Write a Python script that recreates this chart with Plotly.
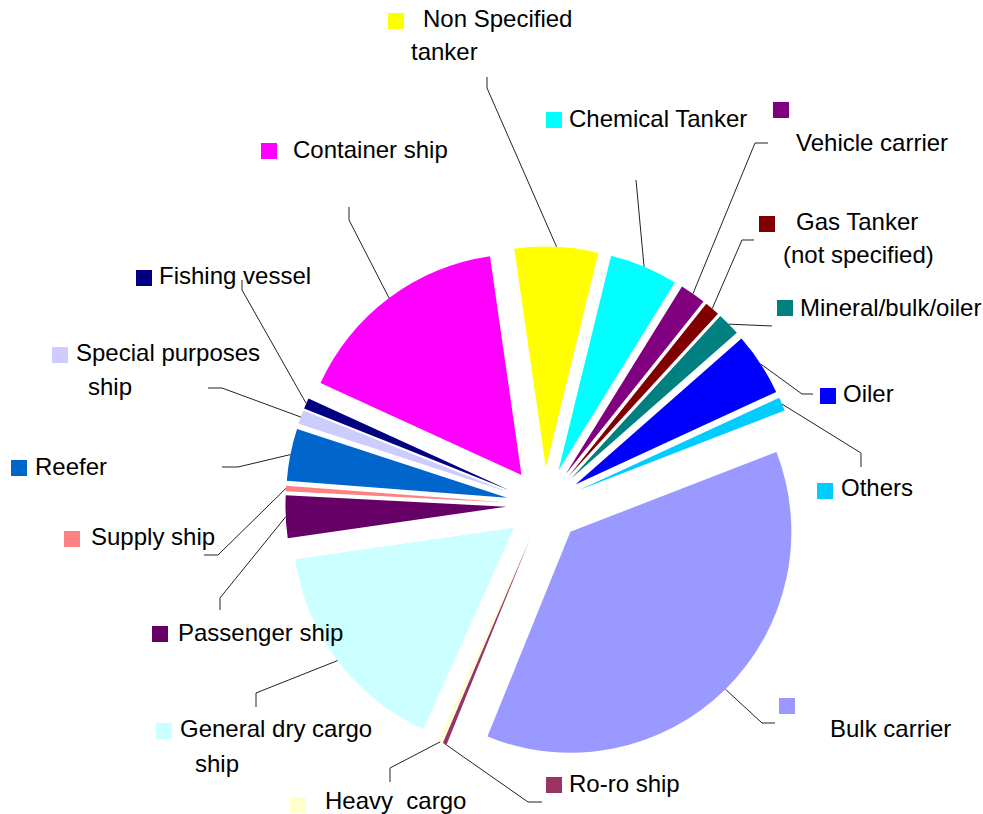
import math
import plotly.graph_objects as go

# ---------------- data ----------------
categories = [
    "Non Specified tanker", "Chemical Tanker", "Vehicle carrier",
    "Gas Tanker (not specified)", "Mineral/bulk/oiler", "Oiler", "Others",
    "Bulk carrier", "Ro-ro ship", "Heavy  cargo", "General dry cargo ship",
    "Passenger ship", "Supply ship", "Reefer", "Special purposes ship",
    "Fishing vessel", "Container ship",
]
shares = [6.1, 5.0, 1.9, 1.1, 1.7, 4.6, 1.0, 37.0, 0.3, 0.3, 16.0,
          3.1, 0.4, 3.8, 1.0, 0.8, 15.9]
label_text = [
    ["Non Specified", "tanker"], ["Chemical Tanker"], ["Vehicle carrier"],
    ["Gas Tanker", "(not specified)"], ["Mineral/bulk/oiler"], ["Oiler"], ["Others"],
    ["Bulk carrier"], ["Ro-ro ship"], ["Heavy  cargo"], ["General dry cargo", "ship"],
    ["Passenger ship"], ["Supply ship"], ["Reefer"], ["Special purposes", "ship"],
    ["Fishing vessel"], ["Container ship"],
]

# ---------------- styles / layout ----------------
colors = ["#FFFF00", "#00FFFF", "#800080", "#800000", "#008080", "#0000FF", "#00CCFF",
          "#9999FF", "#993366", "#FFFFCC", "#CCFFFF", "#660066", "#FF8080", "#0066CC",
          "#CCCCFF", "#000080", "#FF00FF"]

W, H = 983, 814
CX, CY = 544, 505          # pie centre (px)
R = 221                    # pie radius (px)
PULL = 0.17
ROT = -8.2
FONT = dict(family="Liberation Sans, Arial, sans-serif", size=24, color="black")
SQ = 16

# label placement (px): square (left, centre y), text lines (left, centre y), leader path after start
label_pos = [
    dict(sq=(388, 21), lines=[(422, 19), (410, 52)], path=[(487, 88), (487, 77)]),
    dict(sq=(546, 120), lines=[(568, 119)], path=[(636, 180)]),
    dict(sq=(773, 110), lines=[(795, 142)], path=[(755, 143), (768, 143)]),
    dict(sq=(759, 224), lines=[(795, 221), (782, 254)], path=[(742, 240), (754, 240)]),
    dict(sq=(777, 308), lines=[(799, 307)], path=[(772, 326)]),
    dict(sq=(820, 396), lines=[(842, 393)], path=[(802, 394), (813, 394)]),
    dict(sq=(817, 491), lines=[(840, 488)], path=[(861, 453), (861, 467)]),
    dict(sq=(779, 706), lines=[(829, 728)], path=[(762, 723), (775, 723)]),
    dict(sq=(546, 785), lines=[(568, 783)], path=[(528, 802), (542, 802)]),
    dict(sq=(290, 805), lines=[(324, 800)], path=[(390, 768), (390, 782)]),
    dict(sq=(156, 731), lines=[(179, 728), (194, 763)], path=[(256, 693), (256, 707)]),
    dict(sq=(152, 634), lines=[(177, 632)], path=[(220, 598), (220, 610)]),
    dict(sq=(64, 539), lines=[(90, 536)], path=[(218, 555), (204, 555)]),
    dict(sq=(11, 468), lines=[(34, 466)], path=[(238, 467), (222, 467)]),
    dict(sq=(52, 355), lines=[(75, 353), (87, 386)], path=[(222, 388), (208, 388)]),
    dict(sq=(136, 278), lines=[(158, 275)], path=[(242, 290), (242, 280)]),
    dict(sq=(261, 151), lines=[(292, 149)], path=[(349, 220), (349, 207)]),
]


def px(x):
    return x / W


def py(y):
    return 1 - y / H


side = 2 * R * (1 + PULL)
fig = go.Figure(go.Pie(
    labels=categories, values=shares, sort=False, direction="clockwise",
    rotation=ROT, pull=[PULL] * len(shares),
    marker=dict(colors=colors, line=dict(width=0)),
    textinfo="none", hoverinfo="label+percent", showlegend=False,
    domain=dict(x=[px(CX - side / 2), px(CX + side / 2)],
                y=[py(CY + side / 2), py(CY - side / 2)]),
))

shapes, annotations = [], []
total = sum(shares)
cum = 0.0
for i, v in enumerate(shares):
    mid = math.radians(ROT + (cum + v / 2) / total * 360)
    cum += v
    t = R * (1 + PULL)
    sx, sy = CX + t * math.sin(mid), CY - t * math.cos(mid)
    lp = label_pos[i]
    pts = [(sx, sy)] + lp["path"]
    d = "M " + " L ".join(f"{px(x):.5f},{py(y):.5f}" for x, y in pts)
    shapes.append(dict(type="path", path=d, xref="paper", yref="paper",
                       line=dict(color="#222222", width=1)))
    qx, qy = lp["sq"]
    shapes.append(dict(type="rect", xref="paper", yref="paper",
                       x0=px(qx), x1=px(qx + SQ), y0=py(qy + SQ / 2), y1=py(qy - SQ / 2),
                       fillcolor=colors[i], line=dict(width=0)))
    for txt, (tx, ty) in zip(label_text[i], lp["lines"]):
        annotations.append(dict(text=txt, x=px(tx), y=py(ty), xref="paper", yref="paper",
                                xanchor="left", yanchor="middle", showarrow=False,
                                font=FONT, borderpad=0))

fig.update_layout(
    width=W, height=H, margin=dict(l=0, r=0, t=0, b=0),
    paper_bgcolor="white", plot_bgcolor="white",
    shapes=shapes, annotations=annotations,
)

fig.write_html("out.html", config={"displayModeBar": False},
               post_script="document.body.style.margin='0';document.body.style.overflow='hidden';")
